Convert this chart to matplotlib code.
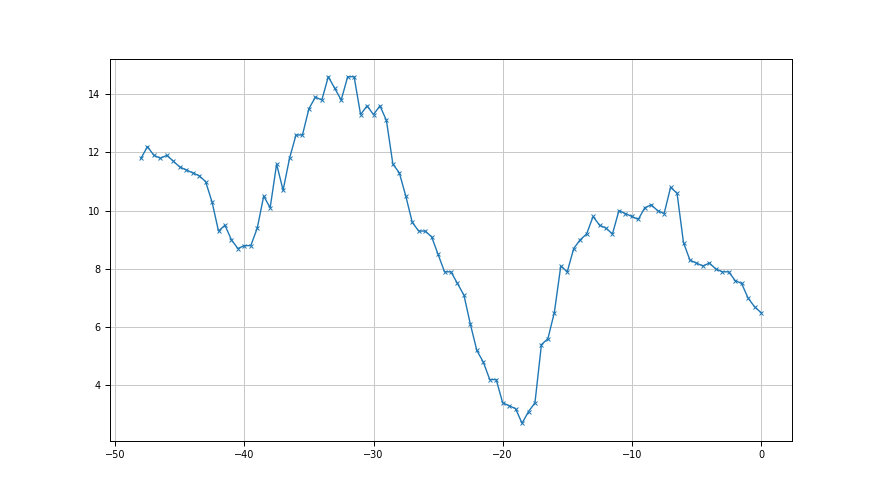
import matplotlib
matplotlib.use("Agg")
import matplotlib.pyplot as plt

x_start = -48.0
x_step = 0.5
values = [
    11.8, 12.2, 11.9, 11.8, 11.9, 11.7, 11.5, 11.4, 11.3, 11.2,
    11.0, 10.3, 9.3, 9.5, 9.0, 8.7, 8.8, 8.8, 9.4, 10.5,
    10.1, 11.6, 10.7, 11.8, 12.6, 12.6, 13.5, 13.9, 13.8, 14.6,
    14.2, 13.8, 14.6, 14.6, 13.3, 13.6, 13.3, 13.6, 13.1, 11.6,
    11.3, 10.5, 9.6, 9.3, 9.3, 9.1, 8.5, 7.9, 7.9, 7.5,
    7.1, 6.1, 5.2, 4.8, 4.2, 4.2, 3.4, 3.3, 3.2, 2.7,
    3.1, 3.4, 5.4, 5.6, 6.5, 8.1, 7.9, 8.7, 9.0, 9.2,
    9.8, 9.5, 9.4, 9.2, 10.0, 9.9, 9.8, 9.7, 10.1, 10.2,
    10.0, 9.9, 10.8, 10.6, 8.9, 8.3, 8.2, 8.1, 8.2, 8.0,
    7.9, 7.9, 7.6, 7.5, 7.0, 6.7, 6.5,
]
xs = [x_start + i * x_step for i in range(len(values))]

fig, ax = plt.subplots(figsize=(8.8, 4.95), dpi=100)
ax.plot(xs, values, marker="x", markersize=3.5, markeredgewidth=0.7,
        linewidth=1.0, color="#1f77b4")
ax.grid(True, color="#c8c8c8", linewidth=0.7)
ax.tick_params(labelsize=7, width=0.7)
for s in ax.spines.values():
    s.set_linewidth(0.7)

fig.savefig("out.png")
